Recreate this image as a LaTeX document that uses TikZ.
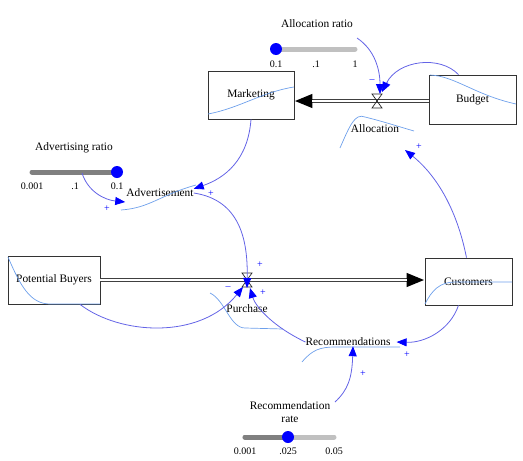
\documentclass[tikz,border=0pt]{standalone}
\usepackage{fontspec}
\setmainfont{Liberation Serif}
\usetikzlibrary{arrows.meta}
\definecolor{infl}{RGB}{100,100,230}
\definecolor{tipblue}{RGB}{0,0,255}
\definecolor{spark}{RGB}{110,160,235}
\definecolor{trackl}{RGB}{192,192,192}
\definecolor{trackd}{RGB}{128,128,128}
\tikzset{
  stock/.style={draw=black!80, line width=0.8pt, minimum width=86pt, minimum height=48pt, inner sep=0pt, font=\fontsize{11.4}{13}\selectfont},
  lbl/.style={inner sep=0pt, font=\fontsize{11.4}{13}\selectfont},
  tick/.style={inner sep=0pt, font=\fontsize{10}{12}\selectfont},
  sign/.style={inner sep=0pt, text=tipblue, font=\fontsize{10}{11}\selectfont},
  valvept/.style={inner sep=0pt, minimum size=2pt},
  influence/.style={draw=infl, line width=0.8pt, -{Triangle[length=10pt,width=8pt,fill=tipblue,color=tipblue]}},
  sparkline/.style={draw=spark, line width=0.7pt},
  pipeout/.style={draw=black!75, line width=4pt, -{Triangle[length=18pt,width=13pt,fill=black,color=black]}},
  pipein/.style={draw=white, line width=1.4pt},
  valveshape/.style={draw=black!85, line width=0.7pt},
  trackL/.style={draw=trackl, line width=5pt, line cap=round},
  trackD/.style={draw=trackd, line width=5pt, line cap=round},
  knob/.style={circle, fill=tipblue, inner sep=0pt, minimum size=12pt},
}
\begin{document}
\begin{tikzpicture}[x=1pt,y=-1pt]
\useasboundingbox (0,0) rectangle (523,461);

% stocks
\node[stock] (mkt) at (251,95) {Marketing};
\node[stock, minimum width=87pt, minimum height=49pt] (bud) at (472.5,99.5) {Budget};
\node[stock, minimum width=92pt] (pb) at (54,280) {Potential Buyers};
\node[stock, minimum width=87pt, minimum height=47pt] (cus) at (468.5,281.5) {Customers};

% sparklines in stocks
\draw[sparkline] (208,114) .. controls (240,108) and (262,92) .. (294,87);
\draw[sparkline] (430,75) .. controls (455,76) and (475,95) .. (516,104);
\draw[sparkline] (8,257) .. controls (20,285) and (30,304) .. (50,304) -- (100,304);
\draw[sparkline] (425,304) .. controls (432,290) and (440,282) .. (455,282) -- (512,282);

% valves
\node[valvept] (v1) at (377,101) {};
\node[valvept] (v2) at (247,280) {};

% pipes
\draw[pipeout] (bud.west |- v1) -- (mkt.east |- v1);
\draw[pipein] (bud.west |- v1) -- ([xshift=18pt]mkt.east |- v1);
\draw[pipeout] (pb.east |- v2) -- (cus.west |- v2);
\draw[pipein] (pb.east |- v2) -- ([xshift=-18pt]cus.west |- v2);

\draw[valveshape] ([shift={(-5,-7)}]v1.center) -- ([shift={(5,-7)}]v1.center) -- ([shift={(-5,7)}]v1.center) -- ([shift={(5,7)}]v1.center) -- cycle;
\draw[valveshape] ([shift={(-5,-7)}]v2.center) -- ([shift={(5,-7)}]v2.center) -- ([shift={(-5,7)}]v2.center) -- ([shift={(5,7)}]v2.center) -- cycle;

% flow / auxiliary labels
\node[lbl] (alloc) at (375,129) {Allocation};
\node[lbl] (purch) at (247,309) {Purchase};
\node[lbl] (adv) at (160,193) {Advertisement};
\node[lbl] (rec) at (348,342) {Recommendations};

% sparklines under flows / auxiliaries
\draw[sparkline] (340,148) .. controls (350,125) and (355,113) .. (365,117) .. controls (385,122) and (400,127) .. (414,131);
\draw[sparkline] (210,293) .. controls (225,300) and (230,328) .. (245,328) -- (283,329);
\draw[sparkline] (121,210) .. controls (150,208) and (160,195) .. (196,185);
\draw[sparkline] (302,362) .. controls (312,350) and (320,347) .. (335,347) -- (400,347);

% slider: Allocation ratio
\node[lbl] (arlab) at (317,24) {Allocation ratio};
\draw[trackL] (276,49) -- (355,49);
\node[knob] (ark) at (276,49) {};
\node[tick] at (276,64) {0.1};
\node[tick] at (316,64) {.1};
\node[tick] at (355,64) {1};
\coordinate (arsrc) at (357,38);

% slider: Advertising ratio
\node[lbl] (advlab) at (74,148) {Advertising ratio};
\draw[trackD] (32,172) -- (117,172);
\node[knob] (advk) at (117,172) {};
\node[tick] at (32,186) {0.001};
\node[tick] at (75,186) {.1};
\node[tick] at (117,186) {0.1};
\coordinate (advsrc) at (82,173);

% slider: Recommendation rate
\node[lbl, align=center] (rrlab) at (290,412) {Recommendation\\rate};
\draw[trackL] (245,437) -- (334,437);
\draw[trackD] (245,437) -- (288,437);
\node[knob] (rrk) at (288,437) {};
\node[tick] at (245,451) {0.001};
\node[tick] at (288,451) {.025};
\node[tick] at (334,451) {0.05};
\coordinate (rrsrc) at (335,402);

% influences
\draw[influence] (arsrc) .. controls (375,50) and (380,70) .. ([shift={(3,-7)}]v1.center);
\draw[influence] ([xshift=-14pt]bud.north) .. controls (440,55) and (398,60) .. ([shift={(5,-9)}]v1.center);
\draw[influence] ([xshift=-2pt]cus.north) .. controls (455,200) and (430,170) .. (405,150);
\draw[influence] (advsrc) .. controls (88,192) and (105,200) .. ([shift={(-1,9)}]adv.west);
\draw[influence] (mkt.south) .. controls (248,160) and (225,178) .. (adv.north east);
\draw[influence] (adv.east) .. controls (240,200) and (248,240) .. ([yshift=-8pt]v2.center);
\draw[influence] ([shift={(26,0)}]pb.south) .. controls (120,335) and (200,340) .. ([shift={(-4,7)}]v2.center);
\draw[influence] (rec.west) .. controls (270,325) and (255,305) .. ([shift={(3,8)}]v2.center);
\draw[influence] ([xshift=-10pt]cus.south) .. controls (450,330) and (425,343) .. ([xshift=6pt]rec.east);
\draw[influence] (rrsrc) .. controls (348,390) and (352,378) .. ([xshift=5pt]rec.south);

% signs
\node[sign] at (372,81) {--};
\node[sign] at (388,86) {+};
\node[sign] at (419,147) {+};
\node[sign] at (107,209) {+};
\node[sign] at (211,194) {+};
\node[sign] at (260,265) {+};
\node[sign] at (228,288) {--};
\node[sign] at (263,293) {+};
\node[sign] at (407,355) {+};
\node[sign] at (363,374) {+};
\end{tikzpicture}
\end{document}
